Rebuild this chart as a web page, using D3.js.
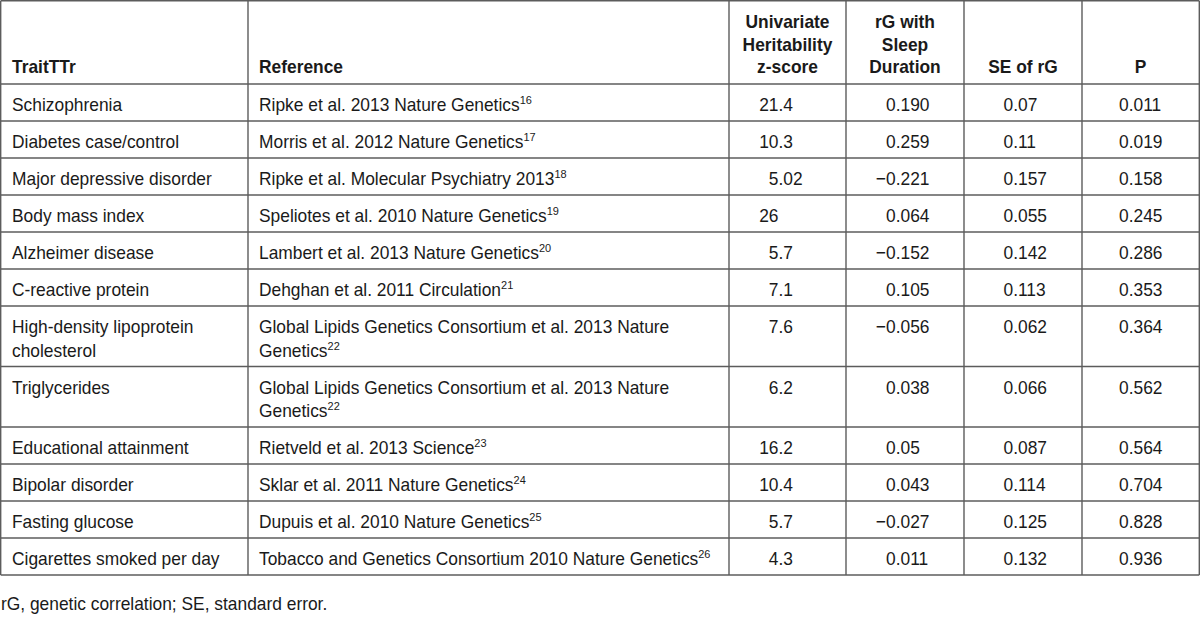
<!DOCTYPE html>
<html><head><meta charset="utf-8">
<script src="https://cdn.jsdelivr.net/npm/d3@7"></script>
<style>body{margin:0;background:#fff}svg{display:block}</style>
</head><body><svg id="c" width="1200" height="621"></svg>
<script>
// ---- data ----
const headers = [["TraitTTr"],["Reference"],["Univariate","Heritability","z-score"],["rG with","Sleep","Duration"],["SE of rG"],["P"]];
const traits = [["Schizophrenia"],["Diabetes case/control"],["Major depressive disorder"],["Body mass index"],["Alzheimer disease"],["C-reactive protein"],["High-density lipoprotein","cholesterol"],["Triglycerides"],["Educational attainment"],["Bipolar disorder"],["Fasting glucose"],["Cigarettes smoked per day"]];
const references = [
  ["Ripke et al. 2013 Nature Genetics"],
  ["Morris et al. 2012 Nature Genetics"],
  ["Ripke et al. Molecular Psychiatry 2013"],
  ["Speliotes et al. 2010 Nature Genetics"],
  ["Lambert et al. 2013 Nature Genetics"],
  ["Dehghan et al. 2011 Circulation"],
  ["Global Lipids Genetics Consortium et al. 2013 Nature","Genetics"],
  ["Global Lipids Genetics Consortium et al. 2013 Nature","Genetics"],
  ["Rietveld et al. 2013 Science"],
  ["Sklar et al. 2011 Nature Genetics"],
  ["Dupuis et al. 2010 Nature Genetics"],
  ["Tobacco and Genetics Consortium 2010 Nature Genetics"]
];
const refNotes = ["16","17","18","19","20","21","22","22","23","24","25","26"];
const heritability = ["21.4","10.3","5.02","26","5.7","7.1","7.6","6.2","16.2","10.4","5.7","4.3"];
const rgSleep = ["0.190","0.259","\u22120.221","0.064","\u22120.152","0.105","\u22120.056","0.038","0.05","0.043","\u22120.027","0.011"];
const seRg = ["0.07","0.11","0.157","0.055","0.142","0.113","0.062","0.066","0.087","0.114","0.125","0.132"];
const pValues = ["0.011","0.019","0.158","0.245","0.286","0.353","0.364","0.562","0.564","0.704","0.828","0.936"];
const footnote = "rG, genetic correlation; SE, standard error.";

// ---- layout ----
const svg = d3.select("#c");
const FONT = "'Liberation Sans', Arial, sans-serif";
const FS = 18.2;
const SX = 0.955;
const ink = "#1a1a1a", rule = "#5c5c5c";
const colEdges = [0.7, 248, 729, 846, 964, 1082, 1199.3];
const headerBottom = 84;
const lineH = 23.5, rowBase = 37;

const nLines = traits.map((t,i) => Math.max(t.length, references[i].length));
const units = nLines.map(n => rowBase + lineH*(n-1));
const cum = [0, ...d3.cumsum(units)];
const y = d3.scaleLinear().domain([0, cum[cum.length-1]]).range([headerBottom, headerBottom + cum[cum.length-1]]);
const rowTop = i => y(cum[i]);
const tableBottom = y(cum[cum.length-1]);

const g = svg.append("g").attr("font-family", FONT).attr("font-size", FS).attr("fill", ink);

function txt(x, yy, s, anchor, bold) {
  const t = g.append("text").attr("transform", `translate(${x},${yy}) scale(${SX},1)`)
    .attr("text-anchor", anchor || "start");
  if (bold) t.attr("font-weight", "bold");
  if (s !== null) t.text(s);
  return t;
}

// rules
const hLines = [0.7, headerBottom, ...cum.slice(1).map(v => y(v))];
g.selectAll("line.h").data(hLines).join("line").attr("class","h")
  .attr("x1", colEdges[0]).attr("x2", colEdges[6]).attr("y1", d=>d).attr("y2", d=>d)
  .attr("stroke", rule).attr("stroke-width", 1.4);
g.selectAll("line.v").data(colEdges).join("line").attr("class","v")
  .attr("x1", d=>d).attr("x2", d=>d).attr("y1", 0.7).attr("y2", tableBottom)
  .attr("stroke", rule).attr("stroke-width", 1.4);

// header
const hAnchor = ["start","start","middle","middle","middle","middle"];
const hX = [12, 259, (729+846)/2, (846+964)/2, (964+1082)/2, (1082+1199)/2];
headers.forEach((lines, c) => {
  const n = lines.length;
  lines.forEach((s, k) => txt(hX[c], 73 - (n-1-k)*22.5, s, hAnchor[c], true));
});

// body
traits.forEach((lines, i) => {
  const top = rowTop(i);
  lines.forEach((s, k) => txt(12, top + 27 + k*lineH, s));
  const refs = references[i];
  refs.forEach((s, k) => {
    const tx = txt(259, top + 27 + k*lineH, null);
    tx.append("tspan").text(s);
    if (k === refs.length-1) tx.append("tspan").attr("dy", -7).attr("font-size", 11.5).text(refNotes[i]);
  });
  const base = top + 27;
  const [ip, fp] = heritability[i].split(".");
  txt(778.5, base, ip, "end");
  if (fp !== undefined) txt(778.5, base, "." + fp);
  const r = rgSleep[i];
  if (r.startsWith("\u2212")) {
    txt(886, base, "\u2212", "end");
    txt(886, base, r.slice(1));
  } else {
    txt(886, base, r);
  }
  txt(1003.5, base, seRg[i]);
  txt(1119, base, pValues[i]);
});

// footnote
txt(1, 610, footnote);
</script></body></html>
